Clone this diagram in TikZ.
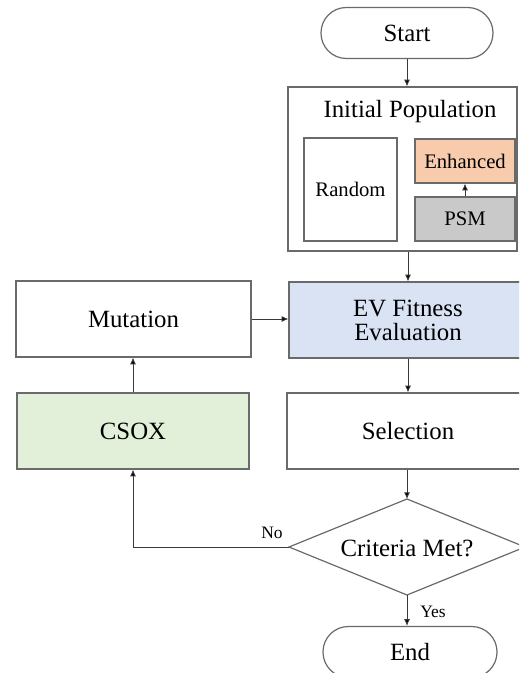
\documentclass[tikz,border=0pt]{standalone}
\usepackage{fontspec}
\setmainfont{Liberation Serif}
\usetikzlibrary{arrows.meta}
\definecolor{edge}{HTML}{6A6A6A}
\definecolor{wire}{HTML}{3A3A3A}
\definecolor{peach}{HTML}{F8CBAD}
\definecolor{psmgray}{HTML}{C9C9C9}
\definecolor{evblue}{HTML}{DAE3F3}
\definecolor{csoxgreen}{HTML}{E2F0D9}
\tikzset{
  box/.style={draw=edge, line width=0.9pt, fill=white, inner sep=0pt, align=center,
    font=\fontsize{18.6}{20}\selectfont},
  smallbox/.style={box, font=\fontsize{15.5}{17}\selectfont},
  term/.style={box, rounded corners=19pt},
  outline/.style={draw=edge, line width=0.9pt, fill=white},
  flow/.style={draw=wire, line width=0.65pt, -{Latex[length=5pt,width=4.5pt,fill=black]}},
  lbl/.style={font=\fontsize{13.1}{15}\selectfont, inner sep=0pt}
}
\begin{document}
\begin{tikzpicture}[x=0.75pt, y=-0.75pt]
\useasboundingbox (0,0) rectangle (519,673);
\clip (0,0) rectangle (519,673);

% terminals
\node[term, minimum width=129pt, minimum height=38.25pt] (start) at (407,33) {Start};
\node[term, minimum width=130.5pt, minimum height=38.25pt] (end) at (410,652) {End};

% initial population block
\node[box, minimum width=171.75pt, minimum height=123pt] (init) at (402.5,169) {};
\node[inner sep=0pt, font=\fontsize{18.6}{20}\selectfont] (inittitle) at (410,112) {Initial Population};
\node[smallbox, minimum width=69.75pt, minimum height=77.25pt] (random) at (350.5,189.5) {Random};
\node[smallbox, fill=peach, minimum width=75pt, minimum height=33pt] (enh) at (465,161) {Enhanced};
\node[smallbox, fill=psmgray, minimum width=75pt, minimum height=33pt] (psm) at (465,219) {PSM};

% main loop
\node[box, fill=evblue, minimum width=178.5pt, minimum height=57pt] (eval) at (408,320) {EV Fitness\\[-2pt]Evaluation};
\node[box, minimum width=176.25pt, minimum height=57pt] (mut) at (133.5,319) {Mutation};
\node[box, fill=csoxgreen, minimum width=174pt, minimum height=57pt] (csox) at (133,431) {CSOX};
\node[box, minimum width=181.5pt, minimum height=57pt] (sel) at (408,431) {Selection};

% decision diamond
\coordinate (critN) at (407,499);
\coordinate (critS) at (407,595);
\coordinate (critW) at (289,547);
\coordinate (critE) at (525,547);
\draw[outline] (critN) -- (critE) -- (critS) -- (critW) -- cycle;
\node[inner sep=0pt, font=\fontsize{18.6}{20}\selectfont] (crit) at (407,548) {Criteria Met?};

% connectors
\draw[flow] (psm.north) -- (enh.south);
\draw[flow] (start.south) -- (start.south |- init.north);
\draw[flow] (init.south -| eval.north) -- (eval.north);
\draw[flow] (eval.south) -- (sel.north);
\draw[flow] (sel.south -| critN) -- (critN);
\draw[flow] (mut.east) -- (eval.west |- mut.east);
\draw[flow] (csox.north) -- (csox.north |- mut.south);
\coordinate (bend) at (csox.south |- critW);
\draw[flow] (critW) -- (bend) -- (csox.south);
\draw[flow] (critS) -- (critS |- end.north);

% branch labels
\node[lbl] (nolbl) at (272,533) {No};
\node[lbl] (yeslbl) at (433,612) {Yes};
\end{tikzpicture}
\end{document}
